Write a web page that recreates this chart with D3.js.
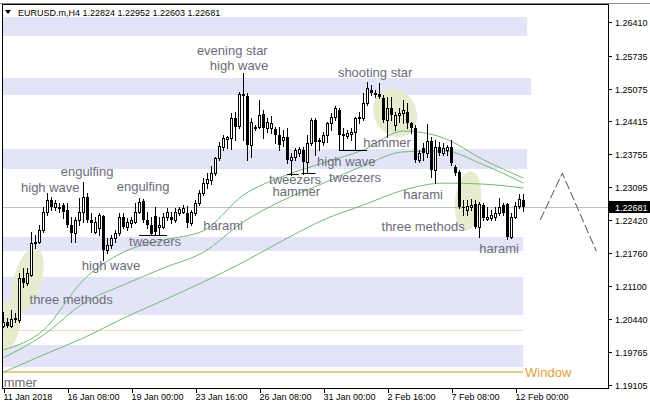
<!DOCTYPE html>
<html><head><meta charset="utf-8">
<script src="https://cdn.jsdelivr.net/npm/d3@7"></script>
<style>body{margin:0;background:#fff;}svg{display:block;}</style>
</head><body>
<svg id="c" width="650" height="409"></svg>
<script>
// ---------- DATA ----------
const symbolTitle = "EURUSD.m,H4";
const lastOHLC = [1.22824, 1.22952, 1.22603, 1.22681];
const opens = [1.2029,1.2037,1.2029,1.2043,1.2041,1.2126,1.2116,1.2132,1.2196,1.2198,1.2223,1.2259,1.2283,1.2269,1.2267,1.2273,1.2263,1.2233,1.2217,1.2243,
1.2259,1.2289,1.2243,1.2219,1.2227,1.2251,1.2182,1.2192,1.2206,1.2217,1.2249,1.2229,1.2237,1.2239,1.2259,1.2281,1.2243,1.2233,1.2251,1.2229,
1.2229,1.2249,1.2249,1.2243,1.2257,1.2259,1.2257,1.2237,1.2257,1.2277,1.2297,1.2317,1.2323,1.2337,1.2368,1.2390,1.2406,1.2408,1.2448,1.2432,
1.2497,1.2493,1.2394,1.2428,1.2430,1.2456,1.2428,1.2428,1.2426,1.2414,1.2404,1.2410,1.2364,1.2370,1.2378,1.2384,1.2360,1.2398,1.2444,1.2404,
1.2400,1.2414,1.2438,1.2450,1.2464,1.2416,1.2412,1.2416,1.2420,1.2448,1.2448,1.2478,1.2505,1.2497,1.2497,1.2489,1.2444,1.2468,1.2434,1.2454,
1.2458,1.2460,1.2438,1.2428,1.2364,1.2388,1.2378,1.2402,1.2344,1.2390,1.2378,1.2384,1.2390,1.2350,1.2340,1.2269,1.2263,1.2269,1.2275,1.2229,
1.2273,1.2245,1.2247,1.2249,1.2257,1.2273,1.2275,1.2208,1.2249,1.2271,1.22824];
const highs = [1.2057,1.2045,1.2061,1.2055,1.2136,1.2146,1.2146,1.2219,1.2213,1.2233,1.2269,1.2297,1.2289,1.2283,1.2277,1.2277,1.2277,1.2249,1.2249,1.2287,
1.2319,1.2297,1.2257,1.2249,1.2257,1.2253,1.2206,1.2213,1.2223,1.2257,1.2257,1.2247,1.2249,1.2277,1.2287,1.2285,1.2259,1.2249,1.2269,1.2249,
1.2257,1.2267,1.2259,1.2267,1.2269,1.2273,1.2271,1.2263,1.2283,1.2303,1.2327,1.2337,1.2352,1.2370,1.2400,1.2414,1.2412,1.2458,1.2460,1.2501,
1.2539,1.2499,1.2448,1.2434,1.2485,1.2464,1.2448,1.2452,1.2430,1.2430,1.2424,1.2428,1.2378,1.2388,1.2390,1.2390,1.2414,1.2448,1.2448,1.2408,
1.2420,1.2440,1.2458,1.2472,1.2468,1.2428,1.2424,1.2428,1.2450,1.2460,1.2499,1.2521,1.2515,1.2505,1.2519,1.2495,1.2491,1.2491,1.2460,1.2468,
1.2485,1.2478,1.2440,1.2434,1.2384,1.2398,1.2436,1.2410,1.2404,1.2400,1.2398,1.2394,1.2404,1.2354,1.2344,1.2283,1.2283,1.2285,1.2283,1.2279,
1.2277,1.2269,1.2263,1.2269,1.2287,1.2277,1.2277,1.2257,1.2279,1.2295,1.22952];
const lows = [1.2027,1.2027,1.2027,1.2037,1.2037,1.2108,1.2112,1.2130,1.2186,1.2196,1.2219,1.2253,1.2263,1.2263,1.2259,1.2247,1.2229,1.2198,1.2198,1.2233,
1.2239,1.2239,1.2219,1.2217,1.2213,1.2162,1.2176,1.2186,1.2198,1.2213,1.2227,1.2223,1.2229,1.2237,1.2257,1.2239,1.2227,1.2215,1.2215,1.2213,
1.2227,1.2243,1.2237,1.2239,1.2253,1.2257,1.2229,1.2233,1.2253,1.2273,1.2293,1.2307,1.2315,1.2333,1.2364,1.2384,1.2388,1.2386,1.2404,1.2428,
1.2404,1.2364,1.2370,1.2424,1.2428,1.2408,1.2420,1.2418,1.2398,1.2384,1.2392,1.2358,1.2333,1.2364,1.2372,1.2335,1.2337,1.2394,1.2374,1.2384,
1.2394,1.2400,1.2424,1.2444,1.2384,1.2384,1.2408,1.2404,1.2384,1.2438,1.2444,1.2474,1.2495,1.2491,1.2489,1.2440,1.2410,1.2444,1.2424,1.2440,
1.2438,1.2428,1.2418,1.2360,1.2360,1.2364,1.2370,1.2329,1.2317,1.2374,1.2374,1.2374,1.2354,1.2333,1.2267,1.2253,1.2253,1.2263,1.2227,1.2208,
1.2243,1.2243,1.2243,1.2243,1.2253,1.2253,1.2204,1.2206,1.2247,1.2267,1.22603];
const closes = [1.2037,1.2029,1.2043,1.2045,1.2126,1.2116,1.2136,1.2196,1.2198,1.2223,1.2259,1.2283,1.2269,1.2277,1.2269,1.2259,1.2233,1.2217,1.2243,1.2259,
1.2289,1.2243,1.2237,1.2239,1.2253,1.2182,1.2192,1.2206,1.2217,1.2249,1.2229,1.2239,1.2243,1.2259,1.2279,1.2243,1.2233,1.2215,1.2219,1.2233,
1.2249,1.2259,1.2243,1.2259,1.2265,1.2267,1.2237,1.2259,1.2277,1.2297,1.2317,1.2325,1.2337,1.2368,1.2392,1.2408,1.2410,1.2448,1.2430,1.2497,
1.2493,1.2394,1.2440,1.2430,1.2454,1.2428,1.2440,1.2438,1.2414,1.2394,1.2410,1.2364,1.2370,1.2384,1.2386,1.2360,1.2398,1.2444,1.2400,1.2400,
1.2414,1.2438,1.2450,1.2468,1.2414,1.2412,1.2418,1.2420,1.2448,1.2450,1.2478,1.2509,1.2499,1.2499,1.2491,1.2444,1.2468,1.2454,1.2454,1.2458,
1.2464,1.2438,1.2428,1.2364,1.2378,1.2378,1.2402,1.2344,1.2390,1.2378,1.2388,1.2390,1.2358,1.2337,1.2269,1.2267,1.2271,1.2273,1.2229,1.2275,
1.2247,1.2249,1.2253,1.2257,1.2269,1.2257,1.2208,1.2249,1.2271,1.2285,1.22681];

const priceTicks = [1.26410,1.25735,1.25075,1.24415,1.23755,1.23095,1.22420,1.21760,1.21100,1.20440,1.19765,1.19105];
const timeTickBars = [0,16,32,48,64,80,96,112,128];
const timeTickLabels = ["11 Jan 2018","16 Jan 08:00","19 Jan 00:00","23 Jan 16:00","26 Jan 08:00","31 Jan 00:00","2 Feb 16:00","7 Feb 08:00","12 Feb 00:00"];

// moving averages sampled every 10 bars
const maBars = [0,10,20,30,40,50,60,70,80,90,100,110,120,130];
const maFast = [1.1981,1.2021,1.2122,1.2178,1.2202,1.2221,1.2293,1.2331,1.2358,1.2384,1.2422,1.2408,1.2364,1.2327];
const maMid  = [1.1965,1.2011,1.2075,1.2112,1.2146,1.2178,1.2239,1.2283,1.2317,1.2352,1.2380,1.2382,1.2354,1.2317];
const maSlow = [1.1936,1.1971,1.2005,1.2045,1.2081,1.2118,1.2158,1.2202,1.2243,1.2273,1.2303,1.2317,1.2315,1.2307];

// support / resistance zones
const zoneTop    = [1.2652,1.2528,1.2385,1.2209,1.2128,1.1991];
const zoneBottom = [1.2613,1.2495,1.2346,1.2181,1.2051,1.1947];
const zoneEndBar = [130.9,131.9,130.9,129.9,129.9,129.9];

// horizontal levels
const levelPrices = [1.2022, 1.1937];
const levelNames  = ["", "Window"];
const levelEndBar = [129.9, 129.9];

// pattern labels
const labelText  = ["evening star","high wave","shooting star","hammer","high wave","tweezers","tweezers","hammer","engulfing","high wave","engulfing","tweezers","high wave","three methods","harami","harami","three methods","harami","hammer"];
const labelBar   = [57.2,58.9,92.9,95.9,85.7,87.9,72.9,73.2,20.9,11.7,34.9,37.9,26.9,16.9,54.9,104.9,104.9,123.9,2.4];
const labelPrice = [1.2575,1.2545,1.2531,1.2390,1.2352,1.2319,1.2315,1.2291,1.2331,1.2299,1.2301,1.2190,1.2142,1.2073,1.2223,1.2285,1.2221,1.2176,1.1906];

// tweezer bottoms
const twzStart = [33.9,70.9,74.5,83.9];
const twzEnd   = [40.9,73.8,78.0,90.9];
const twzPrice = [1.2213,1.2335,1.2337,1.2384];

// highlight ellipses (major axis end points)
const ellBarA = [8.1,2.6,94.9,116.9];
const ellPriceA = [1.2186,1.2084,1.2503,1.2341];
const ellBarB = [4.1,-0.4,100.9,115.4];
const ellPriceB = [1.2057,1.1975,1.2414,1.2221];
const ellHalfWidth = [14,12,21,13];

// projected path
const projBars = [134.2,139.7,148.2];
const projPrices = [1.2243,1.2337,1.2180];

// ---------- DRAW ----------
const svg = d3.select('#c');
const W = 650, H = 409;
const P = {l:2, t:4, r:608, b:388};
const x = d3.scaleLinear().domain([0,151]).range([3.5,607.5]);
const y = d3.scaleLinear().domain([1.190418,1.266182]).range([388,12]);
const font = "'Liberation Sans', Arial, sans-serif";

svg.append('rect').attr('width',W).attr('height',H).attr('fill','#fff');
svg.append('defs').append('clipPath').attr('id','clip')
  .append('rect').attr('x',P.l).attr('y',P.t).attr('width',P.r-P.l).attr('height',P.b-P.t);
const g = svg.append('g').attr('clip-path','url(#clip)');

// zones
g.selectAll('rect.zone').data(zoneTop).join('rect').attr('class','zone')
  .attr('x',P.l).attr('y',(d)=>Math.round(y(d)))
  .attr('width',(d,i)=>x(zoneEndBar[i])-P.l)
  .attr('height',(d,i)=>Math.round(y(zoneBottom[i]))-Math.round(y(d)))
  .attr('fill','#E4E4F8');

// ellipses
ellBarA.forEach((b,i)=>{
  const x1=x(b), y1=y(ellPriceA[i]), x2=x(ellBarB[i]), y2=y(ellPriceB[i]);
  const cx=(x1+x2)/2, cy=(y1+y2)/2;
  const len=Math.hypot(x2-x1,y2-y1)/2;
  const ang=Math.atan2(y2-y1,x2-x1)*180/Math.PI;
  g.append('ellipse').attr('cx',0).attr('cy',0).attr('rx',len).attr('ry',ellHalfWidth[i])
   .attr('transform',`translate(${cx},${cy}) rotate(${ang})`).attr('fill','#E7ECCF');
});

// current price line
g.append('line').attr('x1',P.l).attr('x2',P.r).attr('y1',Math.round(y(lastOHLC[3]))+0.5).attr('y2',Math.round(y(lastOHLC[3]))+0.5)
  .attr('stroke','#C0C0C0');

// levels
g.append('line').attr('x1',P.l).attr('x2',x(levelEndBar[0])).attr('y1',Math.round(y(levelPrices[0]))+0.5).attr('y2',Math.round(y(levelPrices[0]))+0.5)
  .attr('stroke','#F3DDB8');
g.append('line').attr('x1',P.l).attr('x2',x(levelEndBar[1])).attr('y1',Math.round(y(levelPrices[1]))).attr('y2',Math.round(y(levelPrices[1])))
  .attr('stroke','#E9C592').attr('stroke-width',2);
g.append('text').attr('x',x(levelEndBar[1])+2).attr('y',y(levelPrices[1])+5)
  .attr('font-family',font).attr('font-size',13).attr('fill','#DDA23A').text(levelNames[1]);

// moving averages
const maLine = d3.line().x((d,i)=>x(maBars[i])).y(d=>y(d)).curve(d3.curveMonotoneX);
[maFast,maMid,maSlow].forEach(s=>{
  g.append('path').attr('d',maLine(s)).attr('fill','none').attr('stroke','#72B872').attr('stroke-width',1);
});

// labels
g.selectAll('text.lbl').data(labelText).join('text').attr('class','lbl')
  .attr('x',(d,i)=>x(labelBar[i])).attr('y',(d,i)=>y(labelPrice[i]))
  .attr('text-anchor','middle').attr('font-family',font).attr('font-size',13)
  .attr('fill','#6B6B7B').text(d=>d);

// tweezer lines
g.selectAll('line.twz').data(twzPrice).join('line').attr('class','twz')
  .attr('x1',(d,i)=>x(twzStart[i])).attr('x2',(d,i)=>x(twzEnd[i]))
  .attr('y1',d=>Math.round(y(d))+0.5).attr('y2',d=>Math.round(y(d))+0.5)
  .attr('stroke','#000');

// candles
const cg = g.append('g').attr('shape-rendering','crispEdges');
opens.forEach((o,i)=>{
  const c=closes[i], h=highs[i], l=lows[i];
  const cx=x(i);
  cg.append('line').attr('x1',cx).attr('x2',cx).attr('y1',Math.round(y(h))).attr('y2',Math.round(y(l))+1).attr('stroke','#000');
  const yo=Math.round(y(o)), yc=Math.round(y(c));
  if (c>o) {
    cg.append('rect').attr('x',cx-1).attr('y',yc+0.5).attr('width',2).attr('height',Math.max(yo-yc,0))
      .attr('fill','#fff').attr('stroke','#000');
  } else {
    cg.append('rect').attr('x',cx-1.5).attr('y',yo).attr('width',3).attr('height',Math.max(yc-yo,1))
      .attr('fill','#000');
  }
});

// projection
const pl = d3.line().x((d,i)=>x(projBars[i])).y(d=>y(d));
g.append('path').attr('d',pl(projPrices)).attr('fill','none').attr('stroke','#505050').attr('stroke-dasharray','9,3');

// frame
svg.append('line').attr('x1',0).attr('x2',W).attr('y1',3.5).attr('y2',3.5).attr('stroke','#8a8a8a');
svg.append('rect').attr('x',P.l+0.5).attr('y',P.t+0.5).attr('width',P.r-P.l).attr('height',P.b-P.t)
  .attr('fill','none').attr('stroke','#000');

// header
svg.append('path').attr('d','M5,10 L11,10 L8,14 Z').attr('fill','#000');
svg.append('text').attr('x',18).attr('y',15.5).attr('font-family',font).attr('font-size',9).attr('fill','#000')
  .text(symbolTitle + "  " + lastOHLC.map(v=>v.toFixed(5)).join(' '));

// price axis
priceTicks.forEach(p=>{
  const yy=Math.round(y(p))+0.5;
  svg.append('line').attr('x1',P.r+1).attr('x2',P.r+4).attr('y1',yy).attr('y2',yy).attr('stroke','#000');
  svg.append('text').attr('x',P.r+7).attr('y',yy+3.5).attr('font-family',font).attr('font-size',9).attr('fill','#000').text(p.toFixed(5));
});
const ly=Math.round(y(lastOHLC[3]));
svg.append('rect').attr('x',P.r+1).attr('y',ly-6).attr('width',W-P.r-1).attr('height',12).attr('fill','#000');
svg.append('text').attr('x',P.r+7).attr('y',ly+4).attr('font-family',font).attr('font-size',9).attr('fill','#fff').text(lastOHLC[3].toFixed(5));

// time axis
timeTickBars.forEach((b,i)=>{
  const xx=Math.round(x(b))+0.5;
  svg.append('line').attr('x1',xx).attr('x2',xx).attr('y1',P.b+1).attr('y2',P.b+5).attr('stroke','#000');
  svg.append('text').attr('x',xx-1).attr('y',399.5).attr('font-family',font).attr('font-size',9).attr('fill','#000').text(timeTickLabels[i]);
});
</script>
</body></html>
